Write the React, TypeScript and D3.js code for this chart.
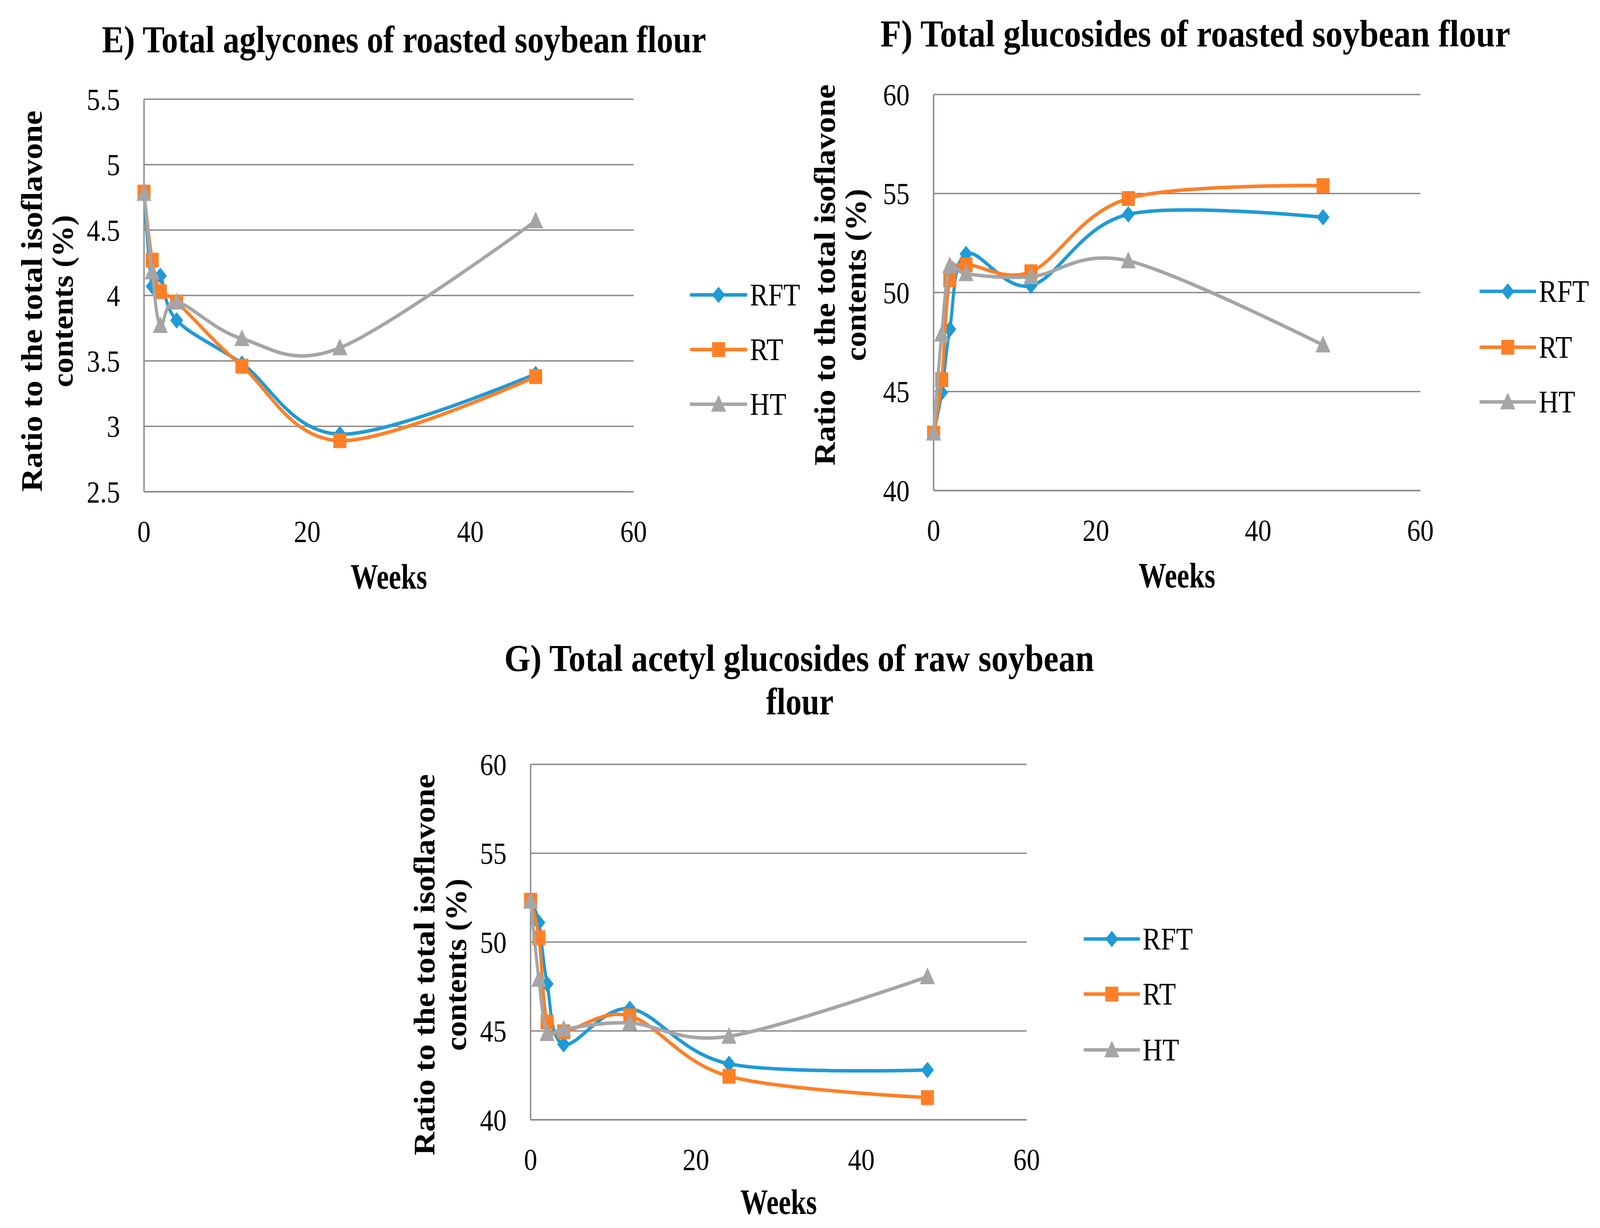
import React from "react";
import * as d3 from "d3";

// weeks of storage (x values shared by every panel)
const weeks = [0, 1, 2, 4, 12, 24, 48];
const seriesNames = ["RFT", "RT", "HT"];
const seriesColors = ["#1F9AD6", "#FF7F27", "#A5A5A5"];

// E) total aglycones of roasted soybean flour
const aglyconeRFT = [4.78, 4.07, 4.15, 3.81, 3.48, 2.94, 3.4];
const aglyconeRT = [4.79, 4.27, 4.03, 3.95, 3.46, 2.89, 3.38];
const aglyconeHT = [4.78, 4.18, 3.77, 3.95, 3.67, 3.6, 4.57];
const aglyconeTicks = [2.5, 3, 3.5, 4, 4.5, 5, 5.5];

// F) total glucosides of roasted soybean flour
const glucosideRFT = [42.9, 44.95, 48.15, 51.95, 50.35, 53.95, 53.8];
const glucosideRT = [42.9, 45.6, 50.65, 51.4, 51.05, 54.75, 55.4];
const glucosideHT = [42.9, 47.9, 51.35, 50.95, 50.8, 51.6, 47.35];

// G) total acetyl glucosides of raw soybean flour
const acetylRFT = [52.3, 51.1, 47.65, 44.25, 46.25, 43.15, 42.8];
const acetylRT = [52.35, 50.25, 45.5, 44.95, 45.85, 42.45, 41.25];
const acetylHT = [52.3, 47.9, 44.85, 45.1, 45.45, 44.7, 48.05];

const percentTicks = [40, 45, 50, 55, 60];
const weekTicks = [0, 20, 40, 60];

const W = 4677;
const H = 3144;
const serif = "'Liberation Serif', 'Times New Roman', serif";
const gridColor = "#898989";

const markerPaths = [
  "M0,-21L19,0L0,21L-19,0Z", // diamond
  "M-19,-19h38v38h-38Z", // square
  "M0,-24L22,19L-22,19Z", // triangle
];

const panels = [
  {
    id: "E",
    titles: [{ text: "E) Total aglycones of roasted soybean flour", x: 1181, y: 134, len: 1766 }],
    left: 421, right: 1852, top: 254, bottom: 1259,
    yTicks: aglyconeTicks,
    series: [aglyconeRFT, aglyconeRT, aglyconeHT],
    yTitleX: [122, 212], yTitleY: 771,
    legendX: [2017, 2184], legendY: [755, 895, 1035],
    weeksOffset: 248,
  },
  {
    id: "F",
    titles: [{ text: "F) Total glucosides of roasted soybean flour", x: 3494, y: 119, len: 1841 }],
    left: 2729, right: 4152, top: 242, bottom: 1256,
    yTicks: percentTicks,
    series: [glucosideRFT, glucosideRT, glucosideHT],
    yTitleX: [2440, 2530], yTitleY: 704,
    legendX: [4325, 4490], legendY: [746, 889, 1029],
    weeksOffset: 248,
  },
  {
    id: "G",
    titles: [
      { text: "G) Total acetyl glucosides of raw soybean", x: 2336, y: 1718, len: 1724 },
      { text: "flour", x: 2338, y: 1829, len: 197 },
    ],
    left: 1551, right: 3001, top: 1957, bottom: 2867,
    yTicks: percentTicks,
    series: [acetylRFT, acetylRT, acetylHT],
    yTitleX: [1270, 1362], yTitleY: 2470,
    legendX: [3168, 3332], legendY: [2404, 2545, 2688],
    weeksOffset: 241,
  },
];

function Panel({ p }) {
  const x = d3.scaleLinear().domain([0, 60]).range([p.left, p.right]);
  const y = d3
    .scaleLinear()
    .domain([p.yTicks[0], p.yTicks[p.yTicks.length - 1]])
    .range([p.bottom, p.top]);
  const line = d3
    .line<number>()
    .x((_, i) => x(weeks[i]))
    .y((d) => y(d))
    .curve(d3.curveCardinal.tension(0));
  const midX = (p.left + p.right) / 2;

  return (
    <g>
      {p.titles.map((t) => (
        <text
          key={t.text}
          x={t.x}
          y={t.y}
          textAnchor="middle"
          fontFamily={serif}
          fontWeight="bold"
          fontSize={98}
          textLength={t.len}
          lengthAdjust="spacingAndGlyphs"
        >
          {t.text}
        </text>
      ))}

      {/* gridlines */}
      {p.yTicks.slice(1).map((t) => (
        <line key={t} x1={p.left} x2={p.right} y1={y(t)} y2={y(t)} stroke={gridColor} strokeWidth={3.5} />
      ))}
      <line x1={p.left} x2={p.right} y1={p.bottom} y2={p.bottom} stroke={gridColor} strokeWidth={4} />
      <line x1={p.left} x2={p.left} y1={p.top} y2={p.bottom} stroke={gridColor} strokeWidth={4} />

      {/* tick labels */}
      {p.yTicks.map((t) => (
        <text key={t} x={p.left - 70} y={y(t)} dy="0.34em" textAnchor="end" fontFamily={serif} fontSize={78}>
          {String(t)}
        </text>
      ))}
      {weekTicks.map((t) => (
        <text key={t} x={x(t)} y={p.bottom + 128} textAnchor="middle" fontFamily={serif} fontSize={78}>
          {String(t)}
        </text>
      ))}

      <text
        x={midX}
        y={p.bottom + p.weeksOffset}
        textAnchor="middle"
        fontFamily={serif}
        fontWeight="bold"
        fontSize={90}
        textLength={224}
        lengthAdjust="spacingAndGlyphs"
      >
        Weeks
      </text>

      {/* y axis title, two lines */}
      {["Ratio to the total isoflavone", "contents (%)"].map((s, i) => (
        <text
          key={s}
          transform={`translate(${p.yTitleX[i]},${p.yTitleY}) rotate(-90)`}
          textAnchor="middle"
          fontFamily={serif}
          fontWeight="bold"
          fontSize={88}
          textLength={i === 0 ? 976 : 441}
          lengthAdjust="spacingAndGlyphs"
        >
          {s}
        </text>
      ))}

      {/* series */}
      {p.series.map((vals, si) => (
        <g key={si}>
          <path d={line(vals) || ""} fill="none" stroke={seriesColors[si]} strokeWidth={9} strokeLinejoin="round" />
          {vals.map((v, i) => (
            <path
              key={i}
              d={markerPaths[si]}
              transform={`translate(${x(weeks[i])},${y(v)})`}
              fill={seriesColors[si]}
            />
          ))}
        </g>
      ))}

      {/* legend */}
      {seriesNames.map((name, si) => {
        const ly = p.legendY[si];
        const cx = (p.legendX[0] + p.legendX[1]) / 2;
        return (
          <g key={name}>
            <line x1={p.legendX[0]} x2={p.legendX[1]} y1={ly} y2={ly} stroke={seriesColors[si]} strokeWidth={9} />
            <path d={markerPaths[si]} transform={`translate(${cx},${ly})`} fill={seriesColors[si]} />
            <text x={p.legendX[1] + 8} y={ly} dy="0.34em" fontFamily={serif} fontSize={80}>
              {name}
            </text>
          </g>
        );
      })}
    </g>
  );
}

export default function App() {
  return (
    <div
      style={{
        position: "fixed",
        left: 0,
        top: 0,
        width: "100vw",
        height: "100vh",
        overflow: "hidden",
        background: "#fff",
      }}
    >
      <svg
        width="100%"
        height="100%"
        viewBox={`0 0 ${W} ${H}`}
        preserveAspectRatio="none"
        style={{ display: "block" }}
      >
        <rect width={W} height={H} fill="#fff" />
        {panels.map((p) => (
          <Panel key={p.id} p={p} />
        ))}
      </svg>
    </div>
  );
}
